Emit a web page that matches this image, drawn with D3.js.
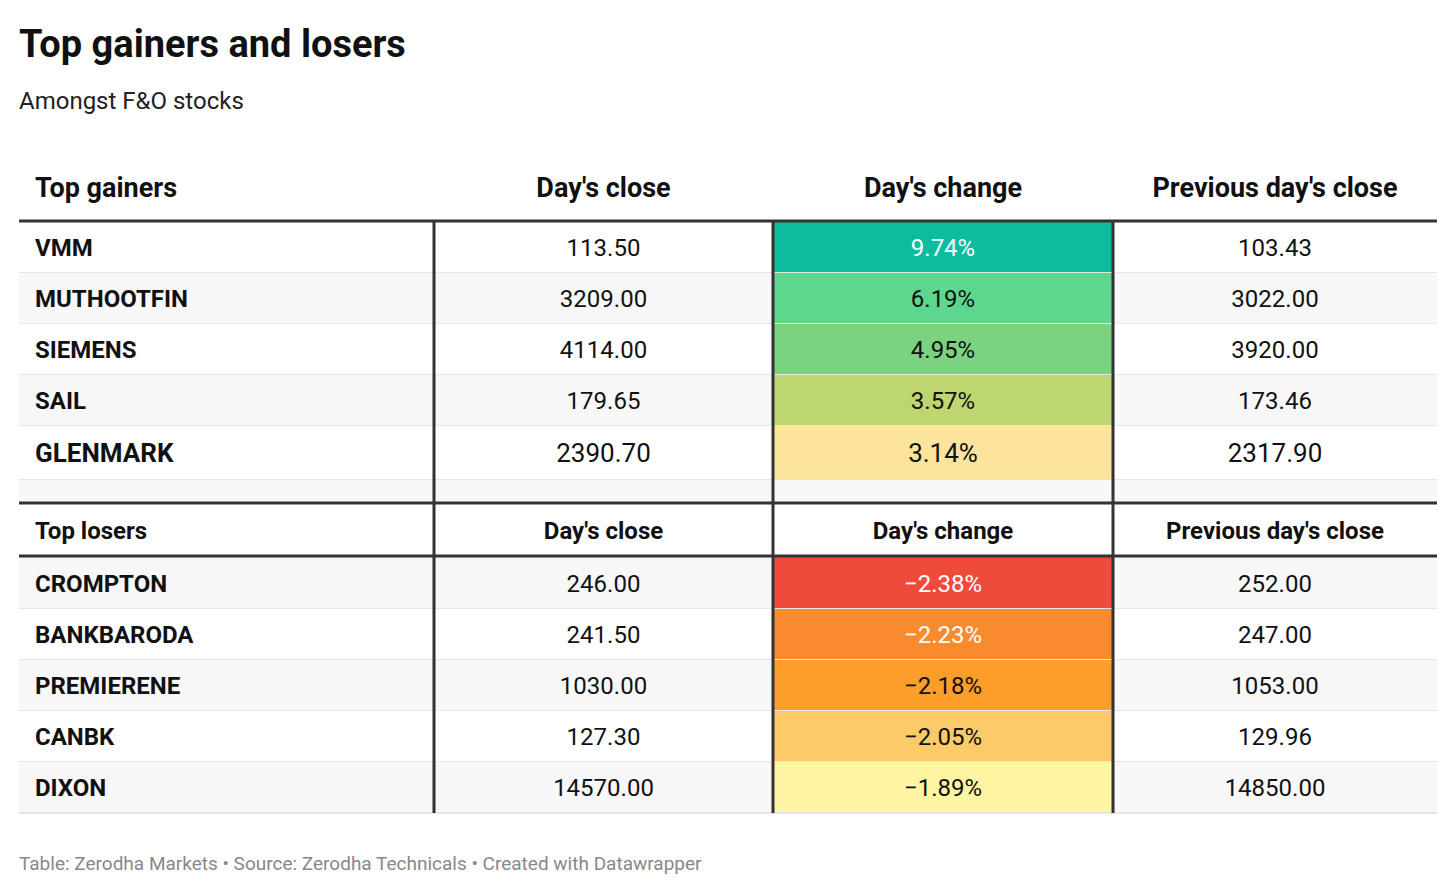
<!DOCTYPE html><html><head><meta charset="utf-8"><script src="https://cdn.jsdelivr.net/npm/d3@7"></script>
<style>body{margin:0;background:#fff}</style></head><body><svg id="c" width="1456" height="894"></svg>
<script>
const columns=["Day's close","Day's change","Previous day's close"];
const gainers=["VMM","MUTHOOTFIN","SIEMENS","SAIL","GLENMARK"];
const gainClose=["113.50","3209.00","4114.00","179.65","2390.70"];
const gainChange=[9.74,6.19,4.95,3.57,3.14];
const gainPrev=["103.43","3022.00","3920.00","173.46","2317.90"];
const gainColors=["#0bbc9f","#5dd68e","#7bd382","#bdd66f","#fde49c"];
const losers=["CROMPTON","BANKBARODA","PREMIERENE","CANBK","DIXON"];
const loseClose=["246.00","241.50","1030.00","127.30","14570.00"];
const loseChange=[-2.38,-2.23,-2.18,-2.05,-1.89];
const losePrev=["252.00","247.00","1053.00","129.96","14850.00"];
const loseColors=["#ef4b3c","#f98b2e","#fd9d2a","#fdca69","#fff5a3"];
const svg=d3.select("#c"),F="Roboto, sans-serif";
const xs=d3.scaleOrdinal().domain([0,1,2,3]).range([19,434,773,1113]);const xEnd=1437;
const colW=i=>(i<3?xs(i+1):xEnd)-xs(i);
svg.append("text").attr("x",19).attr("y",57).attr("font-family",F).attr("font-weight",700).attr("font-size",38).attr("fill","#111").text("Top gainers and losers");
svg.append("text").attr("x",19).attr("y",109).attr("font-family",F).attr("font-size",24).attr("fill","#222").text("Amongst F&O stocks");
svg.append("text").attr("x",19).attr("y",870).attr("font-family",F).attr("font-size",19).attr("fill","#888").text("Table: Zerodha Markets • Source: Zerodha Technicals • Created with Datawrapper");
const fmt=v=>(v<0?"\u2212":"")+Math.abs(v).toFixed(2)+"%";
function header(y,h,label,size){
  const cells=[label].concat(columns);
  cells.forEach((t,i)=>svg.append("text").attr("x",i==0?35:xs(i)+colW(i)/2).attr("y",y+h/2+size*0.36).attr("text-anchor",i==0?"start":"middle").attr("font-family",F).attr("font-weight",700).attr("font-size",size).attr("fill","#111").text(t));
}
function rows(y0,names,close,chg,prev,cols,zebraStart,heights){
  let y=y0;
  names.forEach((n,r)=>{
    const h=heights[r];const big=r==4&&names===gainers;const fs=big?26:24;
    svg.append("rect").attr("x",19).attr("y",y).attr("width",xEnd-19).attr("height",h).attr("fill",(r+zebraStart)%2?"#f7f7f7":"#fff");
    svg.append("rect").attr("x",xs(2)).attr("y",y).attr("width",colW(2)).attr("height",h).attr("fill",cols[r]);
    svg.append("line").attr("x1",19).attr("x2",xEnd).attr("y1",y+h).attr("y2",y+h).attr("stroke","#e6e6e6").attr("stroke-width",2);
    const white=(names===gainers&&r==0)||(names===losers&&r<2);
    [[n,35,"start",700,"#111"],[close[r],xs(1)+colW(1)/2,"middle",400,"#111"],[fmt(chg[r]),xs(2)+colW(2)/2,"middle",400,white?"#fff":"#111"],[prev[r],xs(3)+colW(3)/2,"middle",400,"#111"]].forEach(c=>
      svg.append("text").attr("x",c[1]).attr("y",y+h/2+fs*0.36).attr("text-anchor",c[2]).attr("font-weight",c[3]).attr("fill",c[4]).attr("font-family",F).attr("font-size",fs).text(c[0]));
    y+=h;
  });
  return y;
}
header(160,54,"Top gainers",27);
let yEnd=rows(222,gainers,gainClose,gainChange,gainPrev,gainColors,0,[51,51,51,51,54]);
svg.append("rect").attr("x",19).attr("y",yEnd).attr("width",xEnd-19).attr("height",22).attr("fill","#f7f7f7");
header(504,52,"Top losers",24);
rows(557,losers,loseClose,loseChange,losePrev,loseColors,1,[52,51,51,51,51]);
[221,503,556].forEach(y=>svg.append("line").attr("x1",19).attr("x2",xEnd).attr("y1",y).attr("y2",y).attr("stroke","#333").attr("stroke-width",3));
[1,2,3].forEach(i=>svg.append("line").attr("x1",xs(i)).attr("x2",xs(i)).attr("y1",222).attr("y2",813).attr("stroke","#333").attr("stroke-width",3));
</script></body></html>
